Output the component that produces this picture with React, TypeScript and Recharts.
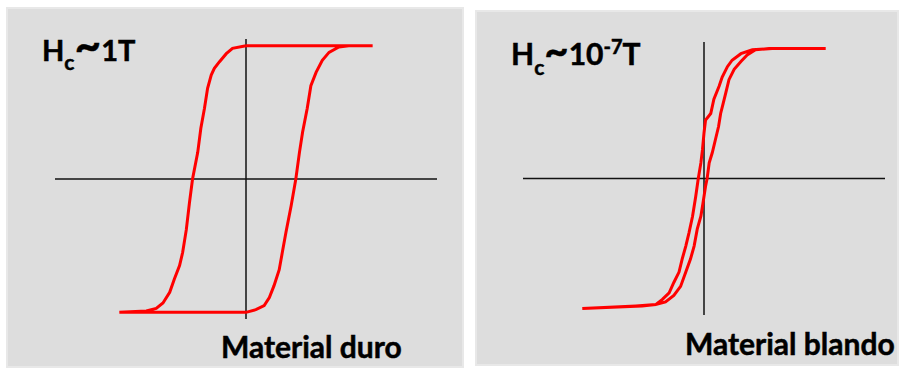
import React from 'react';
import { LineChart, Line, XAxis, YAxis, ReferenceLine } from 'recharts';

// Hard material: descending branch, from the top of the loop down to negative saturation
const hardDownH = [0, -0.26, -0.38, -0.51, -0.61, -0.67, -0.74, -0.8, -0.87, -0.93, -1.03, -1.09, -1.15, -1.22, -1.28, -1.38, -1.47, -1.6, -1.73, -1.92, -2.44];
const hardDownM = [1.0, 0.98, 0.94, 0.88, 0.83, 0.78, 0.68, 0.53, 0.38, 0.2, 0, -0.18, -0.38, -0.55, -0.65, -0.75, -0.85, -0.93, -0.97, -0.99, -1.0];

// Hard material: ascending branch, from the bottom of the loop up to positive saturation
const hardUpH = [0, 0.19, 0.35, 0.45, 0.54, 0.64, 0.7, 0.77, 0.87, 0.96, 1.03, 1.09, 1.18, 1.25, 1.35, 1.47, 1.6, 1.79, 1.98, 2.44];
const hardUpM = [-1.0, -0.98, -0.95, -0.89, -0.8, -0.68, -0.55, -0.4, -0.2, 0, 0.2, 0.35, 0.53, 0.7, 0.8, 0.89, 0.95, 0.99, 1.0, 1.0];

// Soft material: descending branch
const softDownH = [2.34, 1.31, 0.93, 0.71, 0.54, 0.45, 0.35, 0.29, 0.19, 0.13, 0.03, 0, -0.03, -0.06, -0.11, -0.16, -0.22, -0.29, -0.35, -0.42, -0.48, -0.58, -0.67, -0.8, -0.93, -1.19, -2.34];
const softDownM = [1.0, 1.0, 0.99, 0.96, 0.91, 0.86, 0.78, 0.71, 0.61, 0.5, 0.45, 0.35, 0.22, 0.12, 0, -0.14, -0.29, -0.42, -0.52, -0.62, -0.72, -0.8, -0.88, -0.93, -0.97, -0.98, -1.0];

// Soft material: ascending branch
const softUpH = [-2.34, -1.31, -0.93, -0.74, -0.58, -0.45, -0.35, -0.26, -0.19, -0.13, -0.06, -0.02, 0.03, 0.06, 0.1, 0.16, 0.22, 0.28, 0.32, 0.37, 0.42, 0.48, 0.58, 0.71, 0.83, 0.99, 1.25, 2.34];
const softUpM = [-1.0, -0.98, -0.97, -0.95, -0.9, -0.83, -0.72, -0.62, -0.52, -0.39, -0.29, -0.19, -0.06, 0, 0.12, 0.2, 0.3, 0.4, 0.5, 0.58, 0.66, 0.76, 0.84, 0.9, 0.95, 0.99, 1.0, 1.0];

type Pt = { h: number; m: number };

// Join both branches into a single closed path (bottom and top plateaus come from the joins)
function buildLoop(downH: number[], downM: number[], upH: number[], upM: number[]): Pt[] {
  const down = downH.map((h, i) => ({ h, m: downM[i] }));
  const up = upH.map((h, i) => ({ h, m: upM[i] }));
  return [...down, ...up, down[0]];
}

const hardLoop = buildLoop(hardDownH, hardDownM, hardUpH, hardUpM);
const softLoop = buildLoop(softDownH, softDownM, softUpH, softUpM);

const FONT = 'Lato, "Open Sans", sans-serif';
const PANEL_BG = '#dddddd';
const AXIS_COLOR = '#111111';

interface LoopPanelProps {
  loop: Pt[];
  left: number;
  top: number;
  width: number;
  height: number;
  margin: { top: number; right: number; bottom: number; left: number };
  xMax: number;
  children?: React.ReactNode;
}

function LoopPanel({ loop, left, top, width, height, margin, xMax, children }: LoopPanelProps) {
  return (
    <div
      style={{
        position: 'absolute',
        left,
        top,
        width,
        height,
        background: PANEL_BG,
        boxShadow: 'inset 0 0 0 2px #e8e8e8',
      }}
    >
      <LineChart width={width} height={height} margin={margin}>
        <XAxis type="number" dataKey="h" domain={[-xMax, xMax]} hide allowDataOverflow />
        <YAxis type="number" dataKey="m" domain={[-1.05, 1.05]} hide allowDataOverflow />
        <ReferenceLine x={0} stroke={AXIS_COLOR} strokeWidth={1.5} />
        <ReferenceLine y={0} stroke={AXIS_COLOR} strokeWidth={1.5} />
        <Line
          data={loop}
          dataKey="m"
          type="linear"
          stroke="#ff0000"
          strokeWidth={3}
          dot={false}
          activeDot={false}
          isAnimationActive={false}
        />
      </LineChart>
      {/* titles and captions, drawn over the plot */}
      <svg
        width={width}
        height={height}
        style={{ position: 'absolute', left: 0, top: 0, pointerEvents: 'none' }}
        fontFamily={FONT}
        fontWeight={700}
        fill="#000"
        stroke="#000"
        strokeWidth={0.5}
      >
        {children}
      </svg>
    </div>
  );
}

export default function App() {
  return (
    <div style={{ position: 'absolute', left: 0, top: 0, width: 901, height: 368, background: '#fff', overflow: 'hidden' }}>
      <LoopPanel
        loop={hardLoop}
        left={6}
        top={7}
        width={458}
        height={361}
        margin={{ top: 32, right: 27, bottom: 49, left: 49 }}
        xMax={3.68}
      >
        <text x={36} y={54} fontSize={29}>
          H<tspan fontSize={21} dy={9}>c</tspan>
          <tspan fontSize={46} dy={-9}>~</tspan>
          <tspan>1T</tspan>
        </text>
        <text x={215} y={351} fontSize={30}>Material duro</text>
      </LoopPanel>

      <LoopPanel
        loop={softLoop}
        left={475}
        top={10}
        width={424}
        height={356}
        margin={{ top: 32, right: 14, bottom: 51, left: 48 }}
        xMax={3.48}
      >
        <text x={36} y={55} fontSize={30}>
          H<tspan fontSize={21} dy={10}>c</tspan>
          <tspan fontSize={42} dy={-10}>~</tspan>
          <tspan>10</tspan>
          <tspan fontSize={20} dy={-11}>-7</tspan>
          <tspan dy={11}>T</tspan>
        </text>
        <text x={210} y={345} fontSize={30}>Material blando</text>
      </LoopPanel>
    </div>
  );
}
